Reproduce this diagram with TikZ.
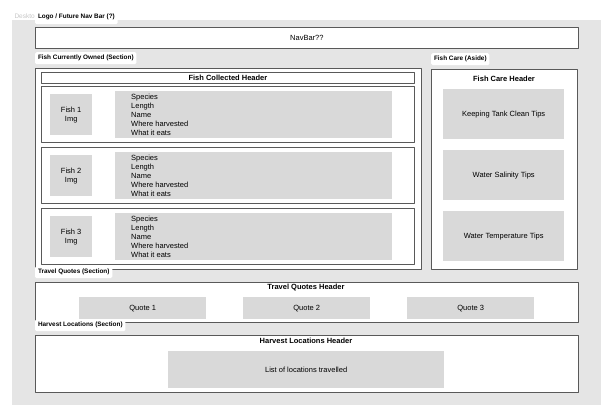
\documentclass[tikz,border=0pt]{standalone}
\usepackage{fontspec}
\setmainfont{Liberation Sans}
\definecolor{bggray}{HTML}{E5E5E5}
\definecolor{phgray}{HTML}{D9D9D9}
\definecolor{linegray}{HTML}{595959}
\tikzset{
	frame/.style={draw=linegray, fill=white, line width=0.8pt, inner sep=0pt, anchor=north west},
	ph/.style={fill=phgray, inner sep=0pt, anchor=north west, align=center},
	tag/.style={fill=white, rounded corners=1.5pt, inner xsep=2.8pt, inner ysep=0pt, minimum height=12, anchor=north west, font=\fontsize{6.4}{7}\selectfont\bfseries},
	head/.style={font=\fontsize{7.5}{9}\selectfont\bfseries}
}
\begin{document}
\begin{tikzpicture}[x=1pt, y=-1pt, font=\fontsize{7.5}{9}\selectfont, line join=round]
	\useasboundingbox (0,0) rectangle (612,418);
	\fill[white] (0,0) rectangle (612,418);
	\fill[bggray] (12,20) rectangle (601,405);
	\node[anchor=west, text=black!22, font=\fontsize{6.5}{7}\selectfont] (desk) at (11,17) {Desktop};
	% sections
	\foreach \n/\x/\y/\w/\h in {nav/35/27/543/21, fish/35/68/386/201, care/431/69/146/200, quotes/35/282/543/40, harvest/35/335/543/57}
	\node[frame, minimum width=\w, minimum height=\h] (\n) at (\x,\y) {};
	\node (navtxt) at (nav) {NavBar??};
	% fish currently owned
	\node[frame, head, minimum width=373, minimum height=11] (fishhead) at (41,72) {Fish Collected Header};
	\foreach \i in {1,2,3}{
		\pgfmathsetmacro\t{86+61*(\i-1)}
		\node[frame, minimum width=373, minimum height=56] (card\i) at (41,\t) {};
		\node[ph, minimum width=42, minimum height=41] (img\i) at (50,\t+8) {Fish \i\\Img};
		\node[ph, minimum width=277, minimum height=47] (info\i) at (115,\t+5) {};
		\node[anchor=west, align=left, inner sep=0pt] (list\i) at ([xshift=16pt]info\i.west) {Species\\Length\\Name\\Where harvested\\What it eats};
	}
	% fish care
	\node[head] (carehead) at (504,79) {Fish Care Header};
	\foreach \n/\y/\s in {tip1/89/Keeping Tank Clean Tips, tip2/150/Water Salinity Tips, tip3/211/Water Temperature Tips}
	\node[ph, minimum width=121, minimum height=50] (\n) at (443,\y) {\s};
	% travel quotes
	\node[head] (quotehead) at (306,288) {Travel Quotes Header};
	\foreach \i/\x in {1/79,2/243,3/407}
	\node[ph, minimum width=127, minimum height=22] (quote\i) at (\x,297) {Quote \i};
	% harvest locations
	\node[head] (harvhead) at (306,341) {Harvest Locations Header};
	\node[ph, minimum width=276, minimum height=37] (places) at (168,351) {List of locations travelled};
	% tags
	\node[tag, minimum height=14] (logo) at (35,10) {Logo / Future Nav Bar (?)};
	\foreach \n/\x/\y/\s in {owned/35/52/Fish Currently Owned (Section), aside/431/53/Fish Care (Aside), travel/35/266/Travel Quotes (Section), locs/35/319/Harvest Locations (Section)}
	\node[tag] (\n) at (\x,\y) {\s};
\end{tikzpicture}
\end{document}
